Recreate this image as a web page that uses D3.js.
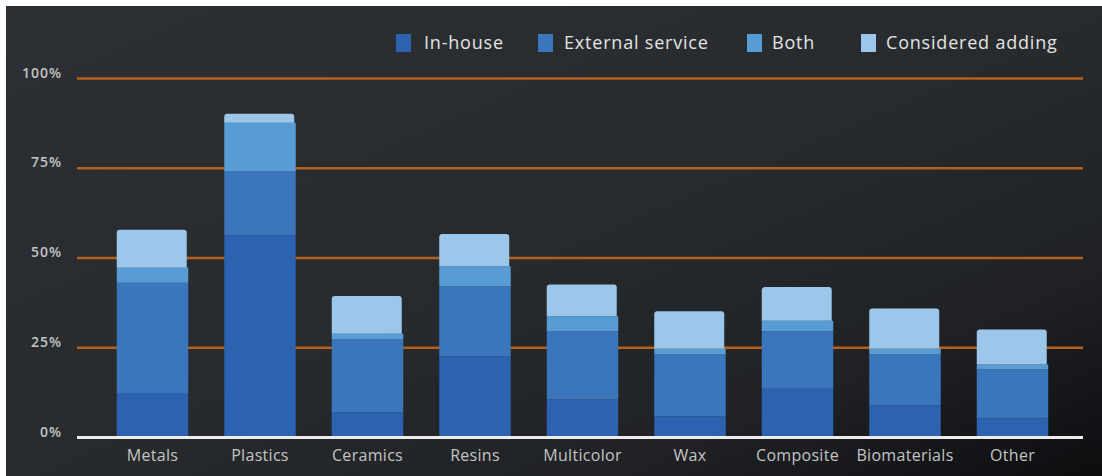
<!DOCTYPE html>
<html>
<head>
<meta charset="utf-8">
<script src="https://cdn.jsdelivr.net/npm/d3@7"></script>
<style>
  html, body { margin: 0; padding: 0; background: #ffffff; }
  svg { display: block; }
</style>
</head>
<body>
<svg id="chart" width="1102" height="476"></svg>
<script>
// Material categories along the x axis
const categories = ["Metals", "Plastics", "Ceramics", "Resins", "Multicolor", "Wax", "Composite", "Biomaterials", "Other"];

// Share of respondents (%) per category, one array per usage type
const inHouse         = [12.4, 56.3,  7.0, 22.6, 10.6,  5.9, 13.6,  9.0,  5.3];
const externalService = [30.7, 17.8, 20.3, 19.5, 19.0, 17.2, 16.0, 14.1, 13.7];
const both            = [ 4.2, 13.6,  1.6,  5.6,  4.2,  1.7,  2.9,  1.7,  1.3];
const consideredAdd   = [10.6,  2.5, 10.5,  9.0,  8.8, 10.4,  9.4, 11.1,  9.8];

const seriesNames = ["In-house", "External service", "Both", "Considered adding"];
const yTicks = [0, 25, 50, 75, 100];
const yTickLabels = ["0%", "25%", "50%", "75%", "100%"];

const colors = ["#2c62b0", "#3b75bc", "#579cd4", "#9cc7eb"];
const W = 1102, H = 476;

const svg = d3.select("#chart");

// Dark panel with a diagonal fade toward the bottom-right corner
const defs = svg.append("defs");
const grad = defs.append("linearGradient")
  .attr("id", "bg").attr("x1", 0).attr("y1", 0).attr("x2", 1).attr("y2", 1);
[["0", "#2c2f33"], ["0.5", "#282b2e"], ["0.78", "#1f2124"], ["1", "#0c0d0f"]]
  .forEach(([o, c]) => grad.append("stop").attr("offset", o).attr("stop-color", c));

svg.append("rect").attr("x", 6).attr("y", 6).attr("width", W - 6).attr("height", H - 6)
  .attr("fill", "url(#bg)");

const plotLeft = 77, plotRight = 1083;

const x = d3.scaleBand()
  .domain(categories)
  .range([98.75, 1066.25])
  .paddingInner(0.335)
  .paddingOuter(0.1675);

const y = d3.scaleLinear().domain([0, 100]).range([437.5, 78.5]);

// Gridlines
svg.append("g").selectAll("line")
  .data(yTicks.filter(d => d > 0))
  .join("line")
  .attr("x1", plotLeft).attr("x2", plotRight)
  .attr("y1", d => y(d)).attr("y2", d => y(d))
  .attr("stroke", "#b4611f").attr("stroke-width", 2.5);

// Y tick labels
svg.append("g").selectAll("text")
  .data(yTicks)
  .join("text")
  .attr("x", 62).attr("y", d => y(d) - 1)
  .attr("text-anchor", "end")
  .attr("font-family", "Open Sans, sans-serif")
  .attr("font-size", 14)
  .attr("font-weight", 600)
  .attr("letter-spacing", 1)
  .attr("fill", "#c4c4c4")
  .text((d, i) => yTickLabels[i]);

// Stacked bars
const table = categories.map((c, i) => ({
  category: c,
  "In-house": inHouse[i],
  "External service": externalService[i],
  "Both": both[i],
  "Considered adding": consideredAdd[i]
}));
const stacked = d3.stack().keys(seriesNames)(table);

const layers = svg.append("g").selectAll("g")
  .data(stacked)
  .join("g")
  .attr("fill", (d, i) => colors[i]);

layers.each(function (layer, li) {
  const g = d3.select(this);
  const isTop = li === stacked.length - 1;
  g.selectAll("path")
    .data(layer)
    .join("path")
    .attr("d", d => {
      const x0 = x(d.data.category);
      const w = isTop ? x.bandwidth() - 1.5 : x.bandwidth();
      const yTop = y(d[1]), yBot = y(d[0]);
      const r = isTop ? 3 : 0;
      const p = d3.path();
      p.moveTo(x0, yBot);
      p.lineTo(x0, yTop + r);
      if (r) p.arcTo(x0, yTop, x0 + r, yTop, r);
      p.lineTo(x0 + w - r, yTop);
      if (r) p.arcTo(x0 + w, yTop, x0 + w, yTop + r, r);
      p.lineTo(x0 + w, yBot);
      p.closePath();
      return p.toString();
    });
});

// Baseline
svg.append("line")
  .attr("x1", plotLeft).attr("x2", plotRight)
  .attr("y1", y(0)).attr("y2", y(0))
  .attr("stroke", "#ececec").attr("stroke-width", 3);

// X axis labels
const xAxis = d3.axisBottom(x).tickSize(0).tickPadding(0);
const xg = svg.append("g").attr("transform", "translate(0,448)").call(xAxis);
xg.select(".domain").remove();
xg.selectAll("text")
  .attr("dy", "0.8em")
  .attr("font-family", "Open Sans, sans-serif")
  .attr("font-size", 16)
  .attr("letter-spacing", 0.3)
  .attr("fill", "#c4c4c4");

// Legend
const legendSwatchX = [396, 538, 747, 861];
const legendTextX = [424, 564, 772, 886];
const legend = svg.append("g").selectAll("g")
  .data(seriesNames)
  .join("g");
legend.append("rect")
  .attr("x", (d, i) => legendSwatchX[i]).attr("y", 34)
  .attr("width", 15).attr("height", 18)
  .attr("fill", (d, i) => colors[i]);
legend.append("text")
  .attr("x", (d, i) => legendTextX[i]).attr("y", 49)
  .attr("font-family", "Open Sans, sans-serif")
  .attr("font-size", 18)
  .attr("letter-spacing", 0.8)
  .attr("fill", "#e4e4e4")
  .text(d => d);
</script>
</body>
</html>
